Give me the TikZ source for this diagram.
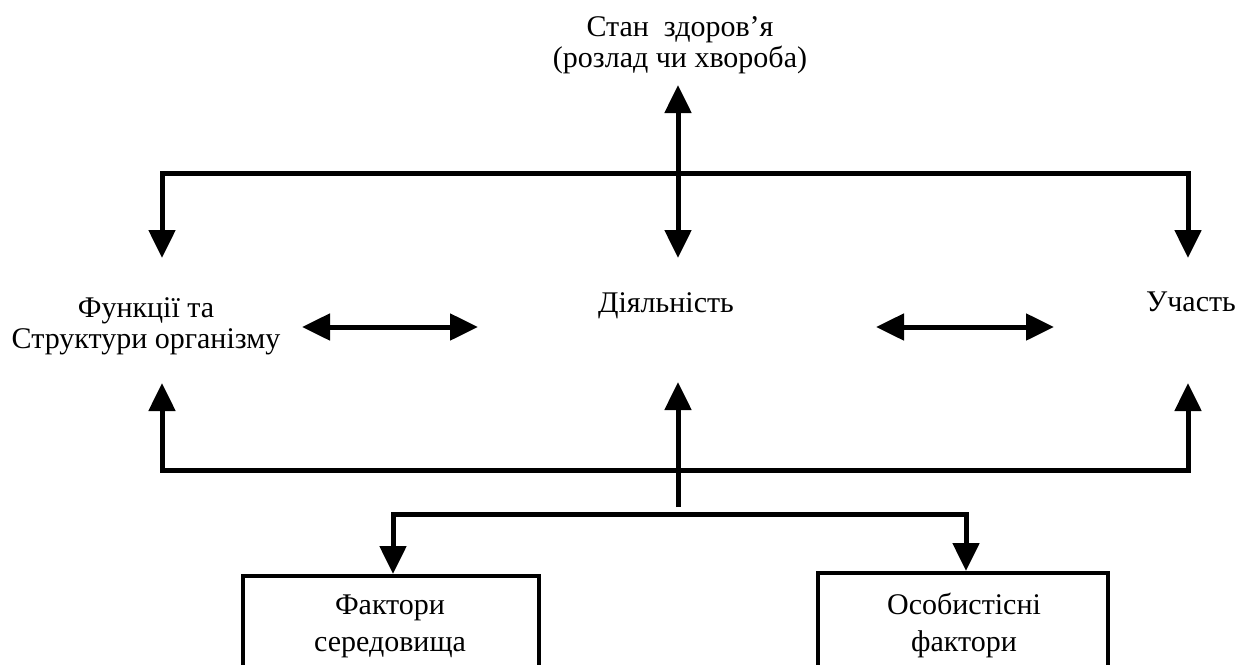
\documentclass[tikz,border=0pt]{standalone}
\usepackage{fontspec}
\setmainfont{Liberation Serif}
\usetikzlibrary{arrows.meta}
\begin{document}
\begin{tikzpicture}[x=1pt,y=-1pt,
  lbl/.style={align=center,font=\fontsize{30}{31}\selectfont,inner sep=0pt},
  boxlbl/.style={lbl,font=\fontsize{30}{37}\selectfont},
  conn/.style={line width=5pt,-{Triangle[width=26pt,length=28pt]}},
  dconn/.style={line width=5pt,{Triangle[width=26pt,length=28pt]}-{Triangle[width=26pt,length=28pt]}},
  plain/.style={line width=5pt},
  boxst/.style={draw,line width=4pt}]
\useasboundingbox (0,0) rectangle (1239,664);
\clip (0,0) rectangle (1239,664);
% texts
\node[lbl] (health) at (680,45) {Стан\ \ здоров’я\\(розлад чи хвороба)};
\node[lbl] (func) at (146,326) {Функції та\\Структури організму};
\node[lbl,anchor=base] (act) at (666,312) {Діяльність};
\node[lbl,anchor=base] (part) at (1191,311) {Участь};
% boxes
\draw[boxst] (243,700) |- (539,576) -- (539,700);
\draw[boxst] (818,700) |- (1108,573) -- (1108,700);
\node[boxlbl] (env) at (390,626) {Фактори\\середовища};
\node[boxlbl] (pers) at (964,625) {Особистісні\\фактори};
% coordinates
\coordinate (hTop) at (678,85);
\coordinate (hBot) at (678,258);
\coordinate (tr) at (1188,173);
\coordinate (fTop) at (162,258);
\coordinate (pTop) at (1188,258);
\coordinate (fBot) at (162,383);
\coordinate (pBot) at (1188,383);
\coordinate (aBot) at (678,382);
\coordinate (br) at (1188,470);
\coordinate (stem) at (678,507);
\coordinate (stemJ) at (678,514);
\coordinate (envTop) at (393,574);
\coordinate (persTop) at (966,571);
\coordinate (l1) at (302,327);
\coordinate (l2) at (478,327);
\coordinate (r1) at (876,327);
\coordinate (r2) at (1054,327);
% connectors
\draw[dconn] (hTop) -- (hBot);
\draw[dconn] (fTop) |- (tr) -- (pTop);
\draw[dconn] (l1) -- (l2);
\draw[dconn] (r1) -- (r2);
\draw[dconn] (fBot) |- (br) -- (pBot);
\draw[conn] (stem) -- (aBot);
\draw[dconn] (envTop) |- (stemJ) -| (persTop);
\end{tikzpicture}
\end{document}
